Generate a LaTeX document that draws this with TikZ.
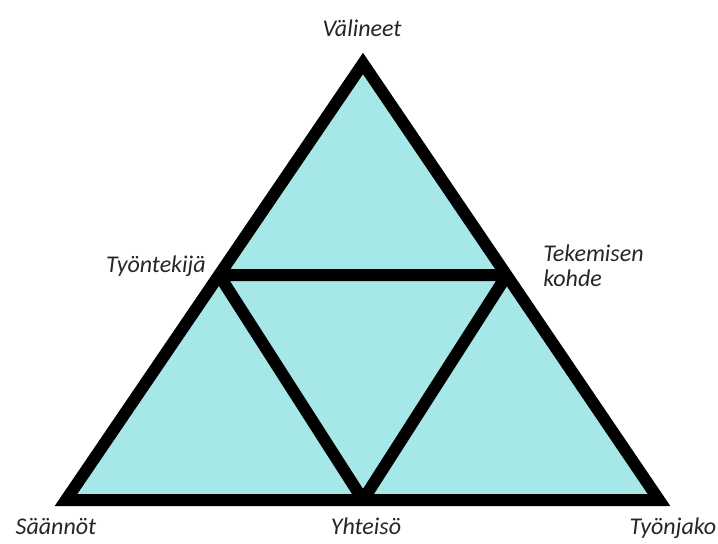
\documentclass[tikz,border=0pt]{standalone}
\usepackage{fontspec}
\setmainfont{Carlito}
\definecolor{tri}{RGB}{166,231,232}
\begin{document}
\begin{tikzpicture}[x=0.75pt,y=-0.75pt,
  edge/.style={draw=black,line width=9pt,line join=miter,miter limit=10},
  lbl/.style={font=\itshape\fontsize{18pt}{20pt}\selectfont,text=black!85,inner sep=0pt}]
\useasboundingbox (0,0) rectangle (718,543);
\coordinate (A) at (363,63.5);
\coordinate (B) at (66,500);
\coordinate (C) at (659,500);
\coordinate (L) at (219,275);
\coordinate (R) at (507,275);
\coordinate (M) at (363,500);
\fill[tri] (A) -- (B) -- (C) -- cycle;
\begin{scope}
  \clip (A) -- (B) -- (C) -- cycle;
  \draw[edge] (L) -- (R) -- (M) -- cycle;
\end{scope}
\draw[edge] (A) -- (B) -- (C) -- cycle;
\node[lbl] (v) at (362,28) {Välineet};
\node[lbl,anchor=east] (t) at (206,266) {Työntekijä};
\node[lbl,anchor=west,align=left] (k) at (543,266) {Tekemisen\\[-1pt]kohde};
\node[lbl,anchor=base] (s) at (56,534) {Säännöt};
\node[lbl,anchor=base] (y) at (366,534) {Yhteisö};
\node[lbl,anchor=base] (j) at (673,534) {Työnjako};
\end{tikzpicture}
\end{document}
